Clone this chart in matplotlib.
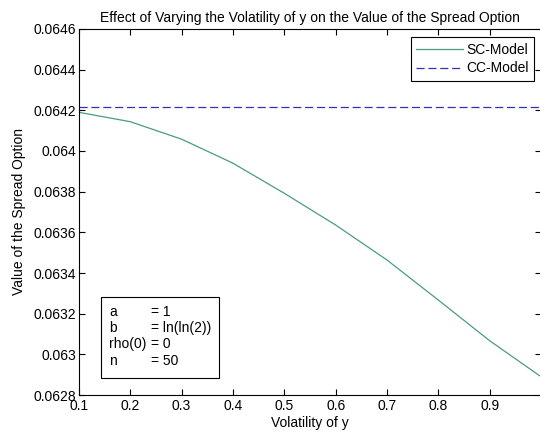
#!/usr/bin/env python3
# Spread option value vs volatility of y (SC vs CC model)

import matplotlib
matplotlib.use('Agg')
import matplotlib.pyplot as plt
from matplotlib.patches import Rectangle
from matplotlib.ticker import FuncFormatter

plt.rcParams['font.family'] = ['Liberation Sans', 'DejaVu Sans']
plt.rcParams['font.size'] = 10

# Values
volatility = [0.1, 0.2, 0.3, 0.4, 0.5, 0.6, 0.7, 0.8, 0.9, 1.0]
sc_values = [0.064190, 0.064144, 0.064058, 0.063940, 0.063792,
             0.063636, 0.063464, 0.063267, 0.063067, 0.062890]
cc_value = 0.064215

x_ticks = [0.1, 0.2, 0.3, 0.4, 0.5, 0.6, 0.7, 0.8, 0.9]
y_ticks = [0.0628, 0.063, 0.0632, 0.0634, 0.0636, 0.0638, 0.064, 0.0642, 0.0644, 0.0646]

param_names = ['a', 'b', 'rho(0)', 'n']
param_values = ['= 1', '= ln(ln(2))', '= 0', '= 50']

fig = plt.figure(figsize=(5.4, 4.38), dpi=100)
ax = fig.add_axes([0.146, 0.098, 0.856, 0.836])

ax.plot(volatility, sc_values, color='#4a9a88', lw=0.9, label='SC-Model')
ax.plot([volatility[0], volatility[-1]], [cc_value, cc_value], color='#3030b8',
        lw=0.9, ls=(0, (6.5, 3)), label='CC-Model')

ax.set_xlim(0.1, 1.0)
ax.set_ylim(0.0628, 0.0646)
ax.set_xticks(x_ticks)
ax.set_yticks(y_ticks)
ax.xaxis.set_major_formatter(FuncFormatter(lambda v, p: '%g' % round(v, 4)))
ax.yaxis.set_major_formatter(FuncFormatter(lambda v, p: '%g' % round(v, 5)))
ax.tick_params(direction='in', top=True, right=True, length=4, width=0.8,
               labelsize=10, pad=2)
ax.tick_params(axis='x', pad=3)
for s in ax.spines.values():
    s.set_linewidth(0.8)

ax.set_title('Effect of Varying the Volatility of y on the Value of the Spread Option',
             fontsize=10, pad=5)
ax.set_xlabel('Volatility of y', labelpad=2)
ax.set_ylabel('Value of the Spread Option', labelpad=5)

leg = ax.legend(loc='upper right', bbox_to_anchor=(0.985, 0.978), fancybox=False,
                edgecolor='black', framealpha=1, handlelength=3.4, handletextpad=0.2,
                borderpad=0.4, labelspacing=0.35, borderaxespad=0, fontsize=10)
leg.get_frame().set_linewidth(0.8)

# parameter box, lower left
ax.add_patch(Rectangle((0.048, 0.046), 0.255, 0.222, transform=ax.transAxes,
                       fc='white', ec='black', lw=0.8, zorder=3))
row_y = [0.227, 0.183, 0.139, 0.094]
for name, val, yy in zip(param_names, param_values, row_y):
    ax.text(0.065, yy, name, transform=ax.transAxes, ha='left', va='center', zorder=4)
    ax.text(0.156, yy, val, transform=ax.transAxes, ha='left', va='center', zorder=4)

fig.savefig('out.png', dpi=100)
